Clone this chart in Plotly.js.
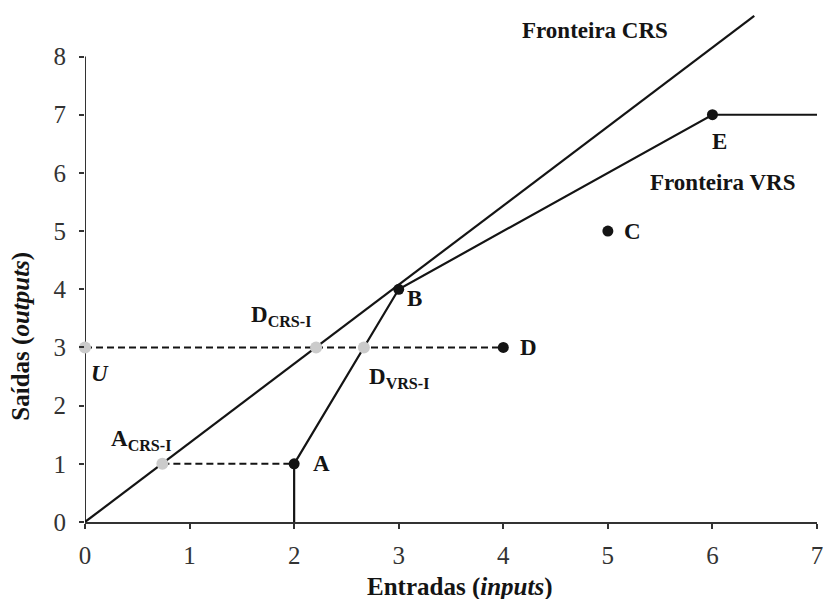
<!DOCTYPE html>
<html>
<head>
<meta charset="utf-8">
<script src="https://cdn.plot.ly/plotly-3.0.1.min.js"></script>
<style>
  html, body { margin: 0; padding: 0; background: #fff; }
  #chart { width: 823px; height: 599px; }
</style>
</head>
<body>
<div id="chart"></div>
<script>
// Observed DMUs (input, output)
const dmuNames = ['A', 'B', 'C', 'D', 'E'];
const dmuIn = [2, 3, 5, 4, 6];
const dmuOut = [1, 4, 5, 3, 7];

// Input-oriented projections onto the frontiers
const projNames = ['U', 'D<sub>CRS-I</sub>', 'D<sub>VRS-I</sub>', 'A<sub>CRS-I</sub>'];
const projIn = [0, 2.21, 2.667, 0.74];
const projOut = [3, 3, 3, 1];

// Constant-returns frontier (ray from the origin)
const crsIn = [0, 6.4];
const crsOut = [0, 8.7];

// Variable-returns frontier (piecewise through A, B, E)
const vrsIn = [2, 2, 3, 6, 7];
const vrsOut = [0, 1, 4, 7, 7];

// Horizontal projection paths
const pathDIn = [0, 4];
const pathDOut = [3, 3];
const pathAIn = [0.74, 2];
const pathAOut = [1, 1];

const xTicks = [0, 1, 2, 3, 4, 5, 6, 7];
const yTicks = [0, 1, 2, 3, 4, 5, 6, 7, 8];

const serif = 'Liberation Serif, Times New Roman, serif';
const ink = '#141414';

const traces = [
  { x: crsIn, y: crsOut, mode: 'lines', line: { color: ink, width: 2.2 }, hoverinfo: 'skip' },
  { x: vrsIn, y: vrsOut, mode: 'lines', line: { color: ink, width: 2.2 }, hoverinfo: 'skip' },
  { x: pathDIn, y: pathDOut, mode: 'lines', line: { color: ink, width: 2, dash: '7px,4px' }, hoverinfo: 'skip' },
  { x: pathAIn, y: pathAOut, mode: 'lines', line: { color: ink, width: 2, dash: '7px,4px' }, hoverinfo: 'skip' },
  { x: projIn, y: projOut, mode: 'markers', cliponaxis: false,
    marker: { color: '#cbcbcb', size: 12 }, hoverinfo: 'skip' },
  { x: dmuIn, y: dmuOut, mode: 'markers', cliponaxis: false,
    marker: { color: ink, size: 11 }, hoverinfo: 'skip' }
];

// Label offsets (px) relative to each point
const dmuShift = { A: [27, 0], B: [16, -9], C: [25, 0], D: [25, 0], E: [7, -27] };
const projShift = [[15, -26], [-35, 31], [35, -31], [-21, 24]];

const annotations = [];
dmuNames.forEach((n, i) => {
  annotations.push({
    x: dmuIn[i], y: dmuOut[i], text: '<b>' + n + '</b>', showarrow: false,
    xshift: dmuShift[n][0], yshift: dmuShift[n][1],
    font: { family: serif, size: 23, color: ink }
  });
});
projNames.forEach((n, i) => {
  const txt = i === 0 ? '<b><i>' + n + '</i></b>' : '<b>' + n + '</b>';
  annotations.push({
    x: projIn[i], y: projOut[i], text: txt, showarrow: false,
    xshift: projShift[i][0], yshift: projShift[i][1],
    font: { family: serif, size: 23, color: ink }
  });
});
annotations.push(
  { x: 4.88, y: 8.45, text: '<b>Fronteira CRS</b>', showarrow: false,
    font: { family: serif, size: 23, color: ink } },
  { x: 6.1, y: 5.83, text: '<b>Fronteira VRS</b>', showarrow: false,
    font: { family: serif, size: 23, color: ink } },
  { xref: 'paper', yref: 'paper', x: (460 - 85) / 732, y: (522.5 - 588) / 512.5,
    text: '<b>Entradas (<i>inputs</i>)</b>', showarrow: false,
    xanchor: 'center', yanchor: 'middle', font: { family: serif, size: 25, color: ink } },
  { xref: 'paper', yref: 'paper', x: (21 - 85) / 732, y: (522.5 - 337) / 512.5,
    text: '<b>Saídas (<i>outputs</i>)</b>', textangle: -90, showarrow: false,
    xanchor: 'center', yanchor: 'middle', font: { family: serif, size: 25, color: ink } }
);

const layout = {
  width: 823, height: 599,
  margin: { l: 85, r: 6, t: 10, b: 77 },
  paper_bgcolor: '#fff', plot_bgcolor: '#fff',
  showlegend: false,
  xaxis: {
    range: [0, 7], tickvals: xTicks, ticktext: xTicks.map(String),
    showgrid: false, zeroline: false, showline: true, linecolor: '#333', linewidth: 2,
    ticks: 'outside', ticklen: 5, tickwidth: 2, tickcolor: '#333', ticklabelstandoff: 5,
    ticklabeloverflow: 'allow',
    tickfont: { family: serif, size: 25, color: '#333' }
  },
  yaxis: {
    range: [0, 8.8], tickvals: yTicks, ticktext: yTicks.map(String),
    showgrid: false, zeroline: false, showline: false,
    ticks: 'outside', ticklen: 5, tickwidth: 2, tickcolor: '#333', ticklabelstandoff: 8,
    tickfont: { family: serif, size: 25, color: '#333' }
  },
  shapes: [
    // vertical axis line stops at the top tick
    { type: 'line', xref: 'x', yref: 'y', x0: 0, x1: 0, y0: 0, y1: yTicks[yTicks.length - 1],
      line: { color: '#333', width: 2 }, layer: 'below' }
  ],
  annotations: annotations
};

Plotly.newPlot('chart', traces, layout, { displayModeBar: false, staticPlot: true });
</script>
</body>
</html>
